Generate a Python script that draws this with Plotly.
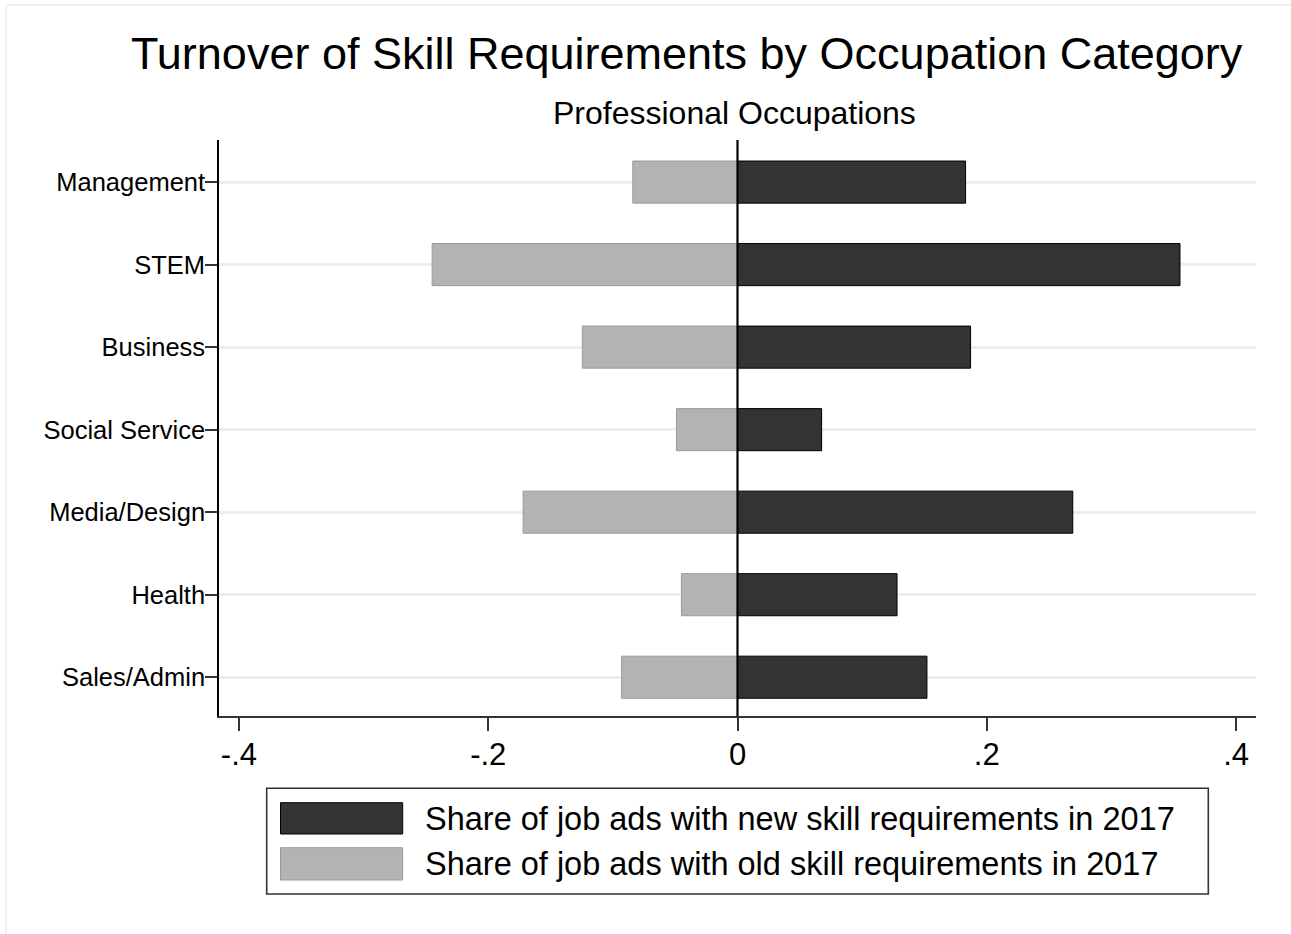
import plotly.graph_objects as go

categories = ["Management", "STEM", "Business", "Social Service", "Media/Design", "Health", "Sales/Admin"]
new_share = [0.183, 0.355, 0.187, 0.0675, 0.269, 0.128, 0.152]
old_share = [-0.084, -0.245, -0.1245, -0.049, -0.172, -0.045, -0.093]
x_tickvals = [-0.4, -0.2, 0, 0.2, 0.4]
x_ticktext = ["-.4", "-.2", "0", ".2", ".4"]
name_new = "Share of job ads with new skill requirements in 2017"
name_old = "Share of job ads with old skill requirements in 2017"
title_text = "Turnover of Skill Requirements by Occupation Category"
subtitle_text = "Professional Occupations"

W, H = 1291, 934
ML, MR, MT, MB = 219, 35, 140, 218
PW = W - ML - MR
PH = H - MT - MB


def px(x):
    return (x - ML) / PW


def py(y):
    return (H - MB - y) / PH


FONT = "Liberation Sans, Arial, sans-serif"
DARK = "#333333"
LIGHT = "#b3b3b3"

fig = go.Figure()
fig.add_trace(go.Bar(y=categories, x=new_share, orientation="h", name=name_new,
                     marker=dict(color=DARK, line=dict(color="#000000", width=1)),
                     width=0.51, showlegend=False))
fig.add_trace(go.Bar(y=categories, x=old_share, orientation="h", name=name_old,
                     marker=dict(color=LIGHT, line=dict(color="#9a9a9a", width=1)),
                     width=0.51, showlegend=False))

shapes = []
# zero reference line
shapes.append(dict(type="line", xref="x", yref="paper", x0=0, x1=0, y0=0, y1=1,
                   line=dict(color="black", width=2.2), layer="above"))
# outer faint frame
shapes.append(dict(type="line", xref="paper", yref="paper", x0=px(6), x1=px(1300), y0=py(5), y1=py(5),
                   line=dict(color="#e6eef0", width=1.5)))
shapes.append(dict(type="line", xref="paper", yref="paper", x0=px(6), x1=px(6), y0=py(5), y1=py(940),
                   line=dict(color="#e6eef0", width=1.5)))
# legend box
shapes.append(dict(type="rect", xref="paper", yref="paper", x0=px(266.7), x1=px(1208.3), y0=py(894), y1=py(788.3),
                   line=dict(color="#333333", width=1.6), fillcolor="white"))
shapes.append(dict(type="rect", xref="paper", yref="paper", x0=px(280.5), x1=px(402.7), y0=py(834), y1=py(802.7),
                   line=dict(color="#000000", width=1), fillcolor=DARK))
shapes.append(dict(type="rect", xref="paper", yref="paper", x0=px(280.5), x1=px(402.7), y0=py(880), y1=py(847.7),
                   line=dict(color="#9a9a9a", width=1), fillcolor=LIGHT))

annotations = [
    dict(text=title_text, xref="paper", yref="paper", x=px(686.5), y=py(54), xanchor="center", yanchor="middle",
         showarrow=False, font=dict(family=FONT, size=45, color="black")),
    dict(text=subtitle_text, xref="paper", yref="paper", x=px(734.5), y=py(113), xanchor="center", yanchor="middle",
         showarrow=False, font=dict(family=FONT, size=32, color="black")),
    dict(text=name_new, xref="paper", yref="paper", x=px(423), y=py(819), xanchor="left", yanchor="middle",
         showarrow=False, font=dict(family=FONT, size=32.5, color="black")),
    dict(text=name_old, xref="paper", yref="paper", x=px(423), y=py(864), xanchor="left", yanchor="middle",
         showarrow=False, font=dict(family=FONT, size=32.5, color="black")),
]

fig.update_layout(
    width=W, height=H,
    margin=dict(l=ML, r=MR, t=MT, b=MB, pad=0),
    paper_bgcolor="white", plot_bgcolor="white",
    barmode="overlay",
    showlegend=False,
    font=dict(family=FONT, color="black"),
    shapes=shapes,
    annotations=annotations,
    xaxis=dict(range=[-0.416, 0.416], tickvals=x_tickvals, ticktext=x_ticktext,
               ticks="outside", ticklen=13, tickwidth=1.5, tickcolor="#333333",
               showline=True, linecolor="#333333", linewidth=1.6,
               showgrid=False, zeroline=False, ticklabelstandoff=-3,
               tickfont=dict(family=FONT, size=31, color="black")),
    yaxis=dict(categoryorder="array", categoryarray=categories, range=[6.47, -0.51],
               ticks="outside", ticklen=12, tickwidth=1.5, tickcolor="#333333",
               showline=True, linecolor="#000000", linewidth=1.6,
               showgrid=True, gridcolor="#e7eff1", gridwidth=2.5, zeroline=False,
               ticklabelstandoff=-5,
               tickfont=dict(family=FONT, size=25.5, color="black")),
)

fig.write_html("out.html", config={"displayModeBar": False},
               post_script="document.body.style.margin='0';document.body.style.padding='0';")
